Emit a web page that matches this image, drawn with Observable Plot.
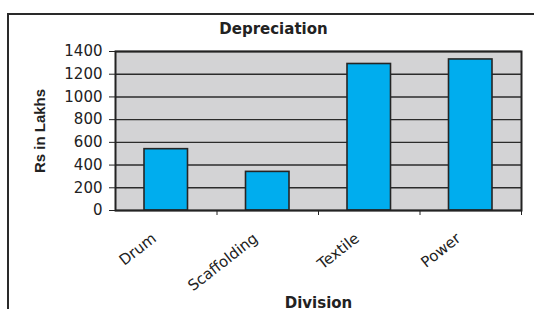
<!DOCTYPE html>
<html>
<head>
<meta charset="utf-8">
<script src="https://cdn.jsdelivr.net/npm/d3@7"></script>
<script src="https://cdn.jsdelivr.net/npm/@observablehq/plot@0.6"></script>
<style>
  html, body { margin: 0; padding: 0; background: #fff; overflow: hidden; }
  body { width: 534px; height: 309px; position: relative; }
  #frame { position: absolute; left: 7px; top: 13px; width: 700px; height: 500px;
           border-left: 2px solid #2a2a2a; border-top: 2px solid #2a2a2a; box-sizing: border-box; }
  #title { position: relative; height: 40px; box-sizing: border-box; padding-top: 22px; padding-left: 13px;
           font: bold 15px/15px "DejaVu Sans"; color: #222; text-align: center; width: 534px; }
  #chart { position: relative; }
  #chart svg { overflow: visible; }
  g[aria-label="y-axis label"] { font-family: "Liberation Sans"; font-weight: bold; }
  g[aria-label="x-axis label"] { font-weight: bold; }
</style>
</head>
<body>
<div id="frame"></div>
<div id="title">Depreciation</div>
<div id="chart"></div>
<script>
const categories = ["Drum", "Scaffolding", "Textile", "Power"];
const depreciation = [540, 340, 1290, 1330];
const yTicks = [0, 200, 400, 600, 800, 1000, 1200, 1400];

const data = categories.map((c, i) => ({category: c, index: i, value: depreciation[i]}));
const boundaries = categories.map((c, i) => i + 1);
const centers = categories.map((c, i) => i + 0.5);

const chart = Plot.plot({
  width: 534,
  height: 269,
  marginTop: 11,
  marginLeft: 115,
  marginRight: 13,
  marginBottom: 99,
  style: {fontFamily: "DejaVu Sans", fontSize: "15px", color: "#222", background: "transparent", overflow: "visible"},
  x: {domain: [0, categories.length]},
  y: {domain: [0, 1400]},
  marks: [
    Plot.frame({fill: "#d3d3d5"}),
    Plot.gridY(yTicks, {stroke: "#2b2b2b", strokeOpacity: 1, strokeWidth: 1.4}),
    Plot.rectY(data, {x1: "index", x2: d => d.index + 1, y: "value", fill: "#00adee", stroke: "#252525", strokeWidth: 1.6, insetLeft: 29, insetRight: 29}),
    Plot.frame({stroke: "#232323", strokeWidth: 2}),
    Plot.axisY(yTicks, {tickSize: 6, tickPadding: 7, stroke: "#222", tickFormat: d => String(d), label: "Rs in Lakhs", labelAnchor: "center", labelArrow: "none", labelOffset: 81}),
    Plot.axisX(boundaries, {tickSize: 5, stroke: "#222", tickFormat: () => "", label: null}),
    Plot.axisX(centers, {tickSize: 0, tickPadding: 26, tickRotate: -38, dx: -12, tickFormat: d => categories[Math.floor(d)], label: "Division", labelAnchor: "center", labelArrow: "none", labelOffset: 97})
  ]
});
document.getElementById("chart").appendChild(chart);
</script>
</body>
</html>
